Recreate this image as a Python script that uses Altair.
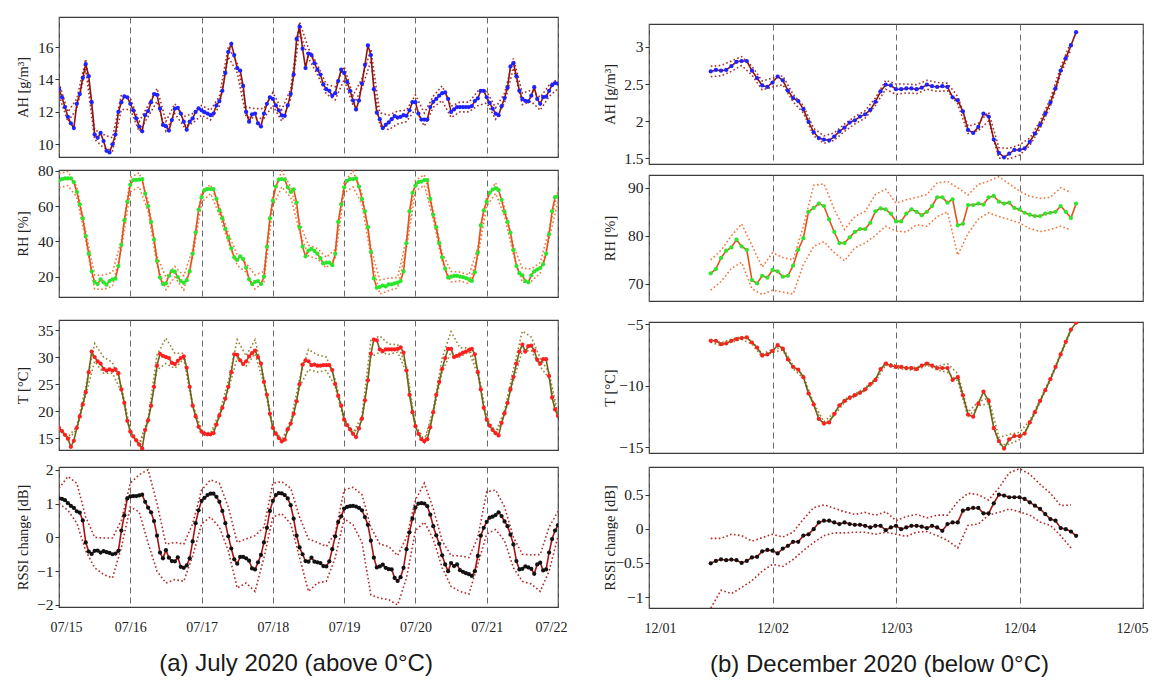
import altair as alt
import pandas as pd

SERIF = "Liberation Serif"
SANS = "Liberation Sans"

# ---------------- axis tick labels / captions ----------------
L_DAYS = ["07/15", "07/16", "07/17", "07/18", "07/19", "07/20", "07/21", "07/22"]
R_DAYS = ["12/01", "12/02", "12/03", "12/04", "12/05"]
L_CAPTION = "(a) July 2020 (above 0°C)"
R_CAPTION = "(b) December 2020 (below 0°C)"

# hours since 07/15 00:00 (left) and since 12/01 00:00 (right)
L_HOURS = list(range(0, 169))
L_BAND_HOURS = list(range(0, 169, 3))
R_HOURS = list(range(12, 84))
R_BAND_HOURS = list(range(12, 84, 2))

# ---------------- July: absolute humidity [g/m3] ----------------
AH_L = [
    13.4, 12.9, 12.3, 11.7, 11.3, 11.0, 12.5, 13.1, 14.1, 14.95, 14.2, 12.6, 10.6, 10.4, 10.7, 10.2, 9.6, 9.5, 10.0, 10.6, 12.0, 12.6, 12.95, 12.9,
    12.5, 12.1, 11.6, 11.1, 10.8, 11.8, 12.05, 12.6, 13.1, 13.05, 12.2, 11.2, 11.12, 10.85, 11.5, 12.2, 12.25, 11.9, 11.4, 10.9, 11.4, 11.6, 12.0, 12.22,
    12.1, 11.98, 11.9, 11.8, 11.9, 12.4, 12.67, 13.3, 14.4, 15.7, 16.2, 15.5, 14.7, 14.55, 13.6, 12.0, 11.4, 11.85, 11.9, 11.3, 11.1, 11.9, 12.5, 12.9,
    12.8, 12.4, 12.1, 11.78, 11.76, 12.4, 13.1, 14.3, 16.5, 17.25, 15.9, 14.7, 15.6, 15.5, 15.0, 14.6, 14.3, 13.7, 13.4, 13.3, 13.0, 13.15, 13.9, 14.6,
    14.4, 13.85, 13.3, 12.7, 12.15, 12.7, 13.75, 14.9, 16.1, 15.5, 13.4, 11.95, 11.55, 11.0, 11.2, 11.35, 11.55, 11.74, 11.65, 11.7, 11.8, 11.76, 12.1, 12.6,
    12.6, 11.9, 11.53, 11.53, 11.53, 12.3, 12.62, 12.8, 13.0, 13.15, 13.2, 12.8, 12.0, 12.15, 12.3, 12.3, 12.3, 12.3, 12.3, 12.36, 12.67, 12.83, 13.3, 13.3,
    12.9, 12.55, 12.2, 11.9, 11.8, 12.35, 12.85, 13.5, 14.8, 15.0, 14.2, 13.3, 12.8, 12.68, 12.65, 13.0, 13.52, 12.8, 12.5, 12.91, 12.94, 13.3, 13.65, 13.78, 13.74,
]
AH_L_DEV = [
    0.4, 0.3, 0.3, 0.3, 0.3, 0.4, 0.4, 0.45,
    0.35, 0.3, 0.35, 0.4, 0.3, 0.3, 0.3, 0.3,
    0.3, 0.3, 0.3, 0.3, 0.3, 0.3, 0.3, 0.3,
    0.4, 0.35, 0.3, 0.3, 0.3, 0.3, 0.3, 0.4,
    0.4, 0.3, 0.3, 0.35, 0.4, 0.45, 0.4, 0.35,
    0.45, 0.4, 0.35, 0.45, 0.35, 0.3, 0.3, 0.45,
    0.35, 0.35, 0.3, 0.3, 0.35, 0.35, 0.4, 0.35,
    0.3,
]

# ---------------- July: relative humidity [%] ----------------
RH_L = [
    74.3, 75.2, 75.6, 75.6, 75.6, 73.5, 68.0, 61.0, 53.0, 43.0, 33.0, 23.0, 17.0, 15.8, 18.5, 16.8, 15.5, 17.5, 18.5, 18.9, 26.0, 38.0, 52.0, 62.5,
    72.0, 74.7, 74.8, 74.9, 75.2, 67.0, 60.0, 51.0, 41.0, 29.0, 19.5, 15.8, 16.2, 20.5, 23.2, 22.8, 19.8, 17.5, 16.5, 18.0, 23.0, 33.0, 45.0, 58.0,
    65.0, 69.0, 69.6, 69.6, 69.6, 64.0, 57.5, 53.0, 47.0, 42.0, 36.0, 31.0, 29.5, 31.5, 30.0, 25.0, 18.5, 15.8, 17.0, 17.5, 15.8, 20.0, 37.0, 53.0,
    63.0, 71.0, 74.9, 75.3, 75.0, 70.5, 68.0, 69.5, 62.0, 48.0, 37.0, 31.5, 34.8, 35.8, 34.6, 33.0, 30.5, 27.5, 28.0, 28.0, 26.5, 33.0, 51.0, 61.0,
    70.5, 74.3, 75.3, 75.3, 75.6, 71.0, 64.0, 57.0, 48.0, 34.0, 19.0, 13.8, 14.2, 15.0, 14.5, 15.6, 15.6, 16.2, 16.6, 17.5, 23.0, 39.0, 57.0, 67.5,
    71.5, 73.5, 73.8, 74.7, 74.6, 64.0, 55.0, 48.0, 39.0, 31.0, 24.5, 19.5, 20.0, 20.4, 20.4, 20.1, 19.7, 19.2, 18.5, 17.6, 22.5, 33.6, 49.0, 57.5,
    62.5, 67.5, 69.3, 70.2, 69.0, 63.5, 56.7, 51.0, 45.0, 35.0, 26.0, 22.0, 20.8, 17.5, 16.8, 20.8, 23.0, 24.0, 25.0, 27.0, 33.0, 44.0, 57.0, 65.0, 65.5,
]
RH_L_DEV = [
    4, 4, 3, 2.5, 4, 4, 4, 2.5,
    4, 4, 3, 2.5, 3.5, 3, 4, 2.5,
    3, 2.5, 2.5, 2.5, 3, 2.5, 4, 3,
    3, 4.5, 3, 2.5, 3, 3, 3, 2.5,
    3, 4.5, 3, 2.5, 4, 3.5, 3, 2.5,
    3, 3, 2.5, 2.5, 3, 2.5, 2.5, 2.5,
    2.5, 3, 2.5, 2.5, 4, 3.5, 3, 2.5,
    3,
]

# ---------------- July: temperature [°C] ----------------
T_L = [
    16.9, 16.3, 15.6, 14.9, 13.4, 14.5, 16.9, 19.0, 21.2, 23.5, 27.2, 31.0, 30.0, 29.2, 28.8, 27.8, 27.5, 27.7, 27.5, 27.7, 27.0, 24.0, 21.5, 18.2,
    16.2, 15.3, 14.6, 13.8, 13.1, 16.5, 18.3, 21.0, 24.5, 28.4, 30.6, 30.2, 30.0, 29.8, 28.9, 28.7, 29.3, 29.8, 30.1, 28.0, 24.5, 21.0, 19.0, 17.1,
    16.2, 15.8, 15.7, 15.7, 15.9, 17.5, 19.2, 20.6, 22.3, 24.5, 27.2, 30.5, 30.4, 29.4, 28.7, 29.2, 30.1, 30.7, 31.2, 30.0, 28.8, 25.4, 23.0, 19.5,
    16.9, 15.8, 15.0, 14.4, 14.7, 16.6, 17.7, 19.5, 21.8, 25.0, 28.6, 29.4, 29.2, 28.5, 28.6, 28.4, 28.4, 28.5, 28.5, 28.5, 27.6, 25.0, 22.8, 21.0,
    18.4, 17.4, 16.6, 15.8, 15.2, 16.8, 18.6, 22.0, 25.7, 30.6, 33.2, 33.1, 31.4, 31.1, 31.4, 31.4, 31.4, 31.4, 31.5, 31.8, 30.8, 27.5, 23.0, 19.8,
    17.2, 15.8, 14.8, 14.4, 14.8, 17.0, 19.8, 23.0, 25.4, 27.8, 29.8, 31.5, 31.5, 30.0, 30.2, 30.5, 30.8, 31.0, 31.3, 31.5, 30.5, 27.2, 24.0, 20.6,
    18.4, 17.3, 16.5, 15.9, 15.5, 17.8, 19.6, 21.5, 24.0, 26.3, 28.8, 31.0, 32.3, 31.0, 32.0, 32.1, 31.2, 29.5, 28.8, 29.6, 29.6, 26.5, 22.5, 20.3, 19.1,
]
T_L_UP = [
    0.2, 0.2, 0.3, 1.0, 2.5, 2.2, 1.5, 0.6,
    0.3, 0.2, 0.4, 2.0, 3.5, 2.0, 0.6, 0.4,
    0.2, 0.2, 0.4, 1.0, 2.8, 1.0, 2.0, 0.6,
    0.3, 0.2, 0.4, 1.0, 2.2, 2.0, 1.5, 0.8,
    0.3, 0.2, 0.5, 2.5, 2.5, 1.0, 0.8, 0.6,
    0.3, 0.2, 0.5, 2.0, 3.2, 1.2, 0.4, 0.6,
    0.3, 0.2, 0.5, 1.5, 2.5, 1.6, 1.0, 0.6,
    0.3,
]
T_L_DN = [
    0.2, 0.2, 0.3, 0.5, 0.8, 0.8, 0.5, 0.4,
    0.2, 0.2, 0.3, 0.8, 1.2, 0.8, 0.4, 0.3,
    0.2, 0.2, 0.3, 0.5, 0.6, 0.9, 0.6, 0.4,
    0.2, 0.2, 0.3, 0.5, 1.5, 1.2, 1.0, 0.5,
    0.2, 0.2, 0.3, 0.6, 0.5, 0.9, 0.6, 0.4,
    0.2, 0.2, 0.3, 0.5, 0.6, 0.5, 0.3, 0.4,
    0.2, 0.2, 0.3, 0.6, 1.2, 0.9, 0.6, 0.4,
    0.3,
]

# ---------------- July: RSSI change [dB] ----------------
RSSI_L = [
    1.15, 1.14, 1.10, 1.01, 0.93, 0.87, 0.77, 0.73, 0.50, -0.15, -0.42, -0.49, -0.40, -0.39, -0.45, -0.41, -0.44, -0.46, -0.50, -0.48, -0.40, 0.20, 0.65, 1.15,
    1.21, 1.22, 1.22, 1.24, 1.26, 1.05, 0.88, 0.74, 0.48, 0.05, -0.45, -0.62, -0.38, -0.60, -0.70, -0.71, -0.59, -0.87, -0.90, -0.83, -0.62, -0.12, 0.42, 0.80,
    1.08, 1.17, 1.25, 1.29, 1.29, 1.20, 1.05, 0.78, 0.42, 0.03, -0.33, -0.65, -0.78, -0.58, -0.58, -0.62, -0.69, -0.92, -0.95, -0.74, -0.52, -0.15, 0.28, 0.78,
    1.08, 1.25, 1.31, 1.30, 1.25, 1.15, 0.95, 0.55, 0.05, -0.30, -0.50, -0.70, -0.72, -0.60, -0.72, -0.74, -0.76, -0.85, -0.86, -0.71, -0.35, 0.03, 0.45, 0.62,
    0.85, 0.90, 0.92, 0.93, 0.91, 0.87, 0.80, 0.60, 0.37, -0.10, -0.60, -0.89, -0.86, -0.81, -0.90, -0.94, -0.95, -1.20, -1.29, -1.18, -0.90, -0.35, 0.15, 0.55,
    0.88, 1.00, 1.01, 1.00, 0.92, 0.67, 0.33, 0.06, -0.19, -0.53, -0.80, -1.00, -0.76, -0.85, -0.80, -0.97, -1.02, -1.06, -1.09, -1.14, -1.00, -0.55, 0.05, 0.28,
    0.46, 0.58, 0.61, 0.66, 0.74, 0.63, 0.47, 0.33, 0.08, -0.21, -0.70, -0.95, -0.93, -0.86, -0.89, -0.93, -1.08, -0.80, -0.75, -0.98, -0.95, -0.45, -0.05, 0.20, 0.36,
]
RSSI_L_HI = [
    1.45, 1.8, 1.6, 0.6, 0.0, -0.02, -0.02, 0.5,
    1.6, 1.85, 2.0, 1.0, -0.2, -0.15, -0.2, 0.4,
    1.4, 1.7, 1.6, 0.9, -0.15, -0.05, 0.05, 0.3,
    1.6, 1.65, 1.45, 0.6, -0.05, -0.15, -0.27, 0.13,
    1.4, 1.48, 1.26, 0.3, -0.2, -0.27, -0.54, 0.0,
    1.1, 1.6, 0.85, -0.1, -0.54, -0.55, -0.6, 0.0,
    1.35, 1.4, 0.9, 0.0, -0.5, -0.52, -0.51, 0.3,
    0.77,
]
RSSI_L_LO = [
    1.0, 0.8, 0.42, -0.4, -0.9, -1.1, -1.2, -0.3,
    0.9, 0.75, -0.17, -1.0, -1.35, -1.25, -1.3, -0.56,
    0.4, 0.6, 0.3, -0.4, -1.5, -1.35, -1.6, -0.6,
    0.6, 0.7, 0.4, -0.6, -1.6, -1.35, -1.3, -0.6,
    0.55, 0.37, -0.15, -1.7, -1.8, -1.84, -2.0, -1.2,
    0.2, 0.45, -0.05, -0.9, -1.45, -1.6, -1.68, -0.8,
    0.1, 0.23, -0.1, -0.9, -1.3, -1.38, -1.6, -1.0,
    0.03,
]

# ---------------- December ----------------
AH_R = [
    2.67, 2.69, 2.68, 2.69, 2.74, 2.80, 2.81, 2.81, 2.68, 2.58, 2.48, 2.46,
    2.52, 2.60, 2.55, 2.41, 2.31, 2.27, 2.16, 1.99, 1.85, 1.77, 1.75, 1.74,
    1.79, 1.86, 1.91, 1.98, 2.01, 2.06, 2.09, 2.15, 2.26, 2.40, 2.49, 2.48,
    2.43, 2.43, 2.44, 2.44, 2.43, 2.45, 2.49, 2.47, 2.46, 2.47, 2.46, 2.32,
    2.28, 2.13, 1.88, 1.84, 1.92, 2.10, 2.06, 1.75, 1.57, 1.51, 1.56, 1.61,
    1.61, 1.63, 1.72, 1.83, 1.95, 2.10, 2.25, 2.44, 2.68, 2.85, 3.02, 3.20,
]
AH_R_DEV = [
    0.07, 0.07, 0.07, 0.06, 0.06, 0.06, 0.06, 0.06, 0.05, 0.05,
    0.05, 0.05, 0.05, 0.05, 0.05, 0.05, 0.05, 0.06, 0.07, 0.06,
    0.06, 0.06, 0.06, 0.05, 0.05, 0.05, 0.05, 0.06, 0.07, 0.07,
    0.07, 0.05, 0.05, 0.05, 0.05, 0.05,
]
RH_R = [
    72.2, 73.1, 75.4, 76.9, 77.6, 79.2, 77.8, 77.1, 70.8, 70.1, 71.7, 71.3,
    72.9, 72.6, 71.5, 71.7, 73.8, 77.1, 79.5, 85.0, 85.8, 86.7, 86.2, 83.4,
    80.8, 78.5, 78.5, 79.7, 80.8, 81.4, 81.4, 82.7, 85.1, 85.7, 85.5, 84.6,
    83.0, 83.0, 84.6, 85.5, 85.0, 84.3, 85.0, 86.2, 88.0, 88.0, 86.9, 87.6,
    82.2, 82.5, 86.4, 86.4, 86.7, 86.5, 88.0, 88.3, 87.1, 86.7, 86.9, 85.8,
    85.5, 84.8, 84.4, 84.1, 84.1, 84.6, 84.8, 85.0, 86.2, 85.0, 83.7, 86.7,
]
RH_R_HI = [
    75.0, 77.0, 80.0, 82.5, 78.0, 73.5, 76.5, 75.5, 75.0, 82.0,
    90.5, 90.8, 85.5, 81.3, 84.0, 85.1, 88.6, 89.7, 86.8, 87.5,
    88.0, 88.6, 91.0, 91.3, 90.0, 88.5, 90.7, 91.4, 92.3, 90.8,
    89.3, 88.2, 87.8, 88.0, 90.0, 89.0,
]
RH_R_LO = [
    68.7, 70.5, 73.2, 74.5, 69.0, 67.8, 68.7, 68.3, 67.9, 74.0,
    77.8, 78.8, 76.5, 74.8, 77.5, 78.5, 80.1, 82.0, 81.0, 80.8,
    82.3, 82.0, 84.0, 85.0, 76.0, 80.5, 83.5, 84.8, 84.0, 83.4,
    82.7, 81.5, 80.9, 81.3, 82.0, 81.2,
]
T_R = [
    -6.33, -6.33, -6.61, -6.55, -6.33, -6.19, -6.11, -6.05, -6.47, -6.88, -7.52, -7.44,
    -7.16, -6.69, -6.97, -7.85, -8.46, -8.68, -9.29, -10.62, -11.51, -12.70, -13.06, -12.98,
    -12.29, -11.59, -11.23, -10.96, -10.76, -10.57, -10.29, -9.85, -9.52, -8.63, -8.19, -8.35,
    -8.46, -8.46, -8.55, -8.55, -8.63, -8.35, -8.19, -8.35, -8.55, -8.55, -8.55, -9.52,
    -9.29, -10.76, -12.34, -12.51, -11.45, -10.48, -11.23, -13.45, -14.50, -15.11, -14.36, -14.09,
    -14.09, -13.89, -12.98, -12.15, -11.23, -10.35, -9.46, -8.46, -7.44, -6.41, -5.42, -4.86,
]
T_R_DEV = [
    0.12, 0.12, 0.12, 0.12, 0.12, 0.12, 0.12, 0.12, 0.12, 0.12,
    0.12, 0.12, 0.12, 0.12, 0.12, 0.12, 0.12, 0.12, 0.12, 0.12,
    0.12, 0.12, 0.15, 0.35, 0.3, 0.2, 0.15, 0.25, 0.3, 0.4,
    0.3, 0.15, 0.1, 0.1, 0.1, 0.1,
]
RSSI_R = [
    -0.506, -0.47, -0.447, -0.46, -0.45, -0.46, -0.50, -0.47, -0.42, -0.41, -0.33, -0.31,
    -0.32, -0.36, -0.29, -0.25, -0.19, -0.19, -0.10, -0.08, -0.005, 0.093, 0.118, 0.118,
    0.093, 0.069, 0.093, 0.069, 0.059, 0.059, 0.044, 0.02, 0.044, 0.044, -0.02, 0.02,
    0.044, -0.005, 0.02, 0.044, 0.044, 0.03, 0.01, 0.044, 0.02, -0.03, 0.069, 0.093,
    0.093, 0.265, 0.29, 0.305, 0.305, 0.226, 0.226, 0.374, 0.50, 0.487, 0.462, 0.462,
    0.462, 0.438, 0.388, 0.339, 0.29, 0.216, 0.143, 0.118, 0.01, -0.005, -0.04, -0.103,
]
RSSI_R_HI = [
    -0.14, -0.14, -0.08, -0.10, -0.18, -0.13, -0.08, -0.12, -0.05, 0.14,
    0.31, 0.35, 0.30, 0.25, 0.21, 0.24, 0.20, 0.25, 0.12, 0.18,
    0.21, 0.16, 0.20, 0.20, 0.40, 0.52, 0.50, 0.42, 0.60, 0.82,
    0.88, 0.80, 0.65, 0.52, 0.34, 0.35,
]
RSSI_R_LO = [
    -1.16, -0.90, -0.95, -0.86, -0.76, -0.62, -0.52, -0.55, -0.45, -0.32,
    -0.20, -0.10, -0.06, -0.06, -0.05, -0.05, -0.08, -0.05, -0.08, -0.11,
    -0.05, -0.04, -0.10, -0.17, -0.28, 0.05, 0.07, 0.20, 0.24, 0.29,
    0.25, 0.20, 0.10, 0.05, -0.10, -0.28,
]

for arr in (AH_L, RH_L, T_L, RSSI_L):
    assert len(arr) == len(L_HOURS), len(arr)
for arr in (AH_L_DEV, RH_L_DEV, T_L_UP, T_L_DN, RSSI_L_HI, RSSI_L_LO):
    assert len(arr) == len(L_BAND_HOURS), len(arr)
for arr in (AH_R, RH_R, T_R, RSSI_R):
    assert len(arr) == len(R_HOURS), len(arr)
for arr in (AH_R_DEV, T_R_DEV, RH_R_HI, RH_R_LO, RSSI_R_HI, RSSI_R_LO):
    assert len(arr) == len(R_BAND_HOURS), len(arr)


def dev_bands(h0, mean, bhours, up, dn):
    hi = [mean[h - h0] + u for h, u in zip(bhours, up)]
    lo = [mean[h - h0] - d for h, d in zip(bhours, dn)]
    return hi, lo


def panel(hours, vals, bhours, hi, lo, xmax, xlabels, ydom, yticks, ytitle,
          line_c, band_c, pt_c, w, h, ext, caption=None, cap_shift=0, flush_off=4):
    m = pd.DataFrame({"h": hours, "v": vals})
    b = pd.DataFrame({"h": list(bhours) * 2, "v": list(hi) + list(lo),
                      "k": ["hi"] * len(bhours) + ["lo"] * len(bhours)})
    label_js = "[" + ",".join("'%s'" % s for s in xlabels) + "][round(datum.value/24)]"
    xax = dict(values=list(range(0, xmax + 1, 24)), grid=True, gridDash=[6, 4],
               gridColor="#6a6a6a", gridWidth=1, ticks=False, domain=False)
    if caption:
        xax.update(labels=True, labelExpr=label_js, labelFont=SERIF, labelFontSize=14,
                   labelColor="#222222", labelPadding=13, labelFlush=True,
                   labelFlushOffset=flush_off,
                   title=caption, titleFont=SANS, titleFontSize=24, titleFontWeight="normal",
                   titleColor="#1a1a1a", titlePadding=17, titleX=w / 2 + cap_shift,
                   titleAlign="center")
    else:
        xax.update(labels=False, title=None)
    x = alt.X("h:Q", scale=alt.Scale(domain=[0, xmax], nice=False, zero=False),
              axis=alt.Axis(**xax))
    y = alt.Y("v:Q", scale=alt.Scale(domain=ydom, nice=False, zero=False),
              axis=alt.Axis(values=yticks, format="~f", title=ytitle, grid=False, domain=False,
                            tickSize=4, tickColor="#333333", labelFont=SERIF, labelFontSize=15.5,
                            labelColor="#222222", labelPadding=2, titleFont=SERIF,
                            titleFontSize=14.5, titleFontWeight="normal", titleColor="#222222",
                            titlePadding=7, minExtent=ext, maxExtent=ext))
    band = alt.Chart(b).mark_line(strokeDash=[1.6, 2.4], strokeWidth=1.6, color=band_c,
                                  clip=True).encode(x=x, y=y, detail="k:N")
    line = alt.Chart(m).mark_line(strokeWidth=1.6, color=line_c, clip=True).encode(x=x, y=y)
    pts = alt.Chart(m).mark_circle(size=18, color=pt_c, opacity=1, clip=True).encode(x=x, y=y)
    return alt.layer(band, line, pts).properties(width=w, height=h)


def spacer(w, h):
    return alt.Chart(pd.DataFrame({"h": [0], "v": [0]})).mark_point(size=0, opacity=0).encode(
        x=alt.X("h:Q", axis=None), y=alt.Y("v:Q", axis=None)
    ).properties(width=w, height=h, view=alt.ViewBackground(stroke="transparent"))


C_AH = ("#8c1616", "#a3302b", "#1f22ff")
C_RH = ("#e0541c", "#f0763a", "#2be62b")
C_T = ("#6f6319", "#918535", "#ff1f1f")
C_RS = ("#a31414", "#b52828", "#111111")

LW, RW = 499, 494
LEXT, REXT = 22, 25

ah_l_hi, ah_l_lo = dev_bands(0, AH_L, L_BAND_HOURS, AH_L_DEV, AH_L_DEV)
rh_l_hi, rh_l_lo = dev_bands(0, RH_L, L_BAND_HOURS, RH_L_DEV, RH_L_DEV)
t_l_hi, t_l_lo = dev_bands(0, T_L, L_BAND_HOURS, T_L_UP, T_L_DN)
ah_r_hi, ah_r_lo = dev_bands(12, AH_R, R_BAND_HOURS, AH_R_DEV, AH_R_DEV)
t_r_hi, t_r_lo = dev_bands(12, T_R, R_BAND_HOURS, T_R_DEV, T_R_DEV)

left = alt.vconcat(
    panel(L_HOURS, AH_L, L_BAND_HOURS, ah_l_hi, ah_l_lo, 168, L_DAYS, [9.22, 17.85],
          [10, 12, 14, 16], "AH [g/m³]", *C_AH, LW, 140, LEXT),
    spacer(LW, 13),
    panel(L_HOURS, RH_L, L_BAND_HOURS, rh_l_hi, rh_l_lo, 168, L_DAYS, [8.5, 80.4],
          [20, 40, 60, 80], "RH [%]", *C_RH, LW, 127, LEXT),
    spacer(LW, 23),
    panel(L_HOURS, T_L, L_BAND_HOURS, t_l_hi, t_l_lo, 168, L_DAYS, [12.8, 36.85],
          [15, 20, 25, 30, 35], "T [°C]", *C_T, LW, 130, LEXT),
    spacer(LW, 17),
    panel(L_HOURS, RSSI_L, L_BAND_HOURS, RSSI_L_HI, RSSI_L_LO, 168, L_DAYS, [-2.06, 2.08],
          [-2, -1, 0, 1, 2], "RSSI change [dB]", *C_RS, LW, 140, LEXT,
          caption=L_CAPTION, cap_shift=-13, flush_off=9),
    spacing=0, bounds="flush",
)

right = alt.vconcat(
    spacer(RW, 7),
    panel(R_HOURS, AH_R, R_BAND_HOURS, ah_r_hi, ah_r_lo, 96, R_DAYS, [1.42, 3.31],
          [1.5, 2, 2.5, 3], "AH [g/m³]", *C_AH, RW, 140, REXT),
    spacer(RW, 11),
    panel(R_HOURS, RH_R, R_BAND_HOURS, RH_R_HI, RH_R_LO, 96, R_DAYS, [66.45, 92.65],
          [70, 80, 90], "RH [%]", *C_RH, RW, 126, REXT),
    spacer(RW, 21),
    panel(R_HOURS, T_R, R_BAND_HOURS, t_r_hi, t_r_lo, 96, R_DAYS, [-15.47, -4.8],
          [-15, -10, -5], "T [°C]", *C_T, RW, 131, REXT),
    spacer(RW, 14),
    panel(R_HOURS, RSSI_R, R_BAND_HOURS, RSSI_R_HI, RSSI_R_LO, 96, R_DAYS, [-1.16, 0.905],
          [-1, -0.5, 0, 0.5], "RSSI change [dB]", *C_RS, RW, 141, REXT,
          caption=R_CAPTION, cap_shift=-17, flush_off=5),
    spacing=0, bounds="flush",
)

chart = alt.hconcat(left, right, spacing=33).properties(
    padding={"left": 6, "top": 8, "right": 0, "bottom": 0},
    background="white",
).configure_view(stroke="#3a3a3a", strokeWidth=1.2)

chart.save("out.html", embed_options={"renderer": "svg", "actions": False})
